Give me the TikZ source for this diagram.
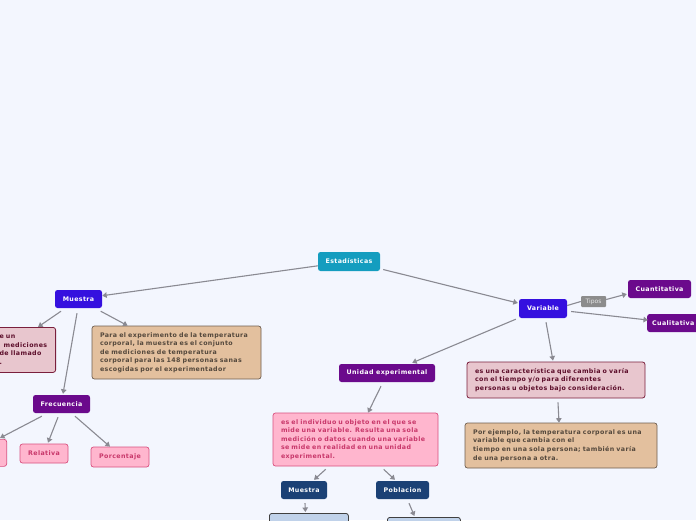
\documentclass[tikz,border=0pt]{standalone}
\usepackage{fontspec}
\setmainfont{DejaVu Sans}[BoldFeatures={LetterSpace=6}]
\usetikzlibrary{arrows.meta,calc}
\definecolor{bgc}{HTML}{F3F6FE}
\definecolor{tealc}{HTML}{149DBF}
\definecolor{bluec}{HTML}{3510DF}
\definecolor{purpc}{HTML}{6B0A8C}
\definecolor{dbluec}{HTML}{1B4175}
\definecolor{pinkf}{HTML}{FFB6CE}
\definecolor{pinkd}{HTML}{D9507F}
\definecolor{pinkt}{HTML}{C8376A}
\definecolor{rosef}{HTML}{E8C6CE}
\definecolor{rosed}{HTML}{7A1F3D}
\definecolor{roset}{HTML}{5C0D2A}
\definecolor{tanf}{HTML}{E3C09E}
\definecolor{tand}{HTML}{6E5E50}
\definecolor{tant}{HTML}{54483C}
\definecolor{lbluef}{HTML}{C0D2EA}
\definecolor{arrc}{HTML}{8A8A92}
\definecolor{tipf}{HTML}{8C8C8C}
\definecolor{tipt}{HTML}{E6E6E6}
\tikzset{
  box/.style={rounded corners=2.5pt, inner sep=0pt, font=\fontsize{6.3}{8.6}\selectfont\bfseries},
  topic/.style={box, text=white, minimum height=18pt},
  tealbox/.style={topic, fill=tealc},
  bluebox/.style={topic, fill=bluec},
  purpbox/.style={topic, fill=purpc},
  dbluebox/.style={topic, fill=dbluec},
  pinkbox/.style={box, fill=pinkf, draw=pinkd, line width=0.7pt, text=pinkt},
  rosebox/.style={box, fill=rosef, draw=rosed, line width=0.8pt, text=roset, align=left},
  tanbox/.style={box, fill=tanf, draw=tand, line width=0.7pt, text=tant, align=left},
  lbluebox/.style={box, fill=lbluef, draw=black!75, line width=0.8pt},
  tipbox/.style={rounded corners=1pt, inner sep=0pt, fill=tipf, text=tipt, font=\fontsize{6}{7}\selectfont},
  arr/.style={draw=arrc, line width=1.1pt, -{Triangle[width=5.5pt,length=4.5pt]}},
  plainline/.style={draw=arrc, line width=1.1pt}
}
\begin{document}
\begin{tikzpicture}[x=1pt,y=-1pt]
\fill[bgc] (0,0) rectangle (696,520);
\useasboundingbox (0,0) rectangle (696,520);

% nodes
\node[tealbox, minimum width=62pt, minimum height=19pt] (est) at (349,261.5) {Estadísticas};
\node[bluebox, minimum width=47pt] (mu) at (78.5,299) {Muestra};
\node[bluebox, minimum width=48pt, minimum height=19pt] (var) at (543,308.5) {Variable};
\node[tipbox, minimum width=25pt, minimum height=11pt] (tipos) at (593.5,301.5) {Tipos};
\node[purpbox, minimum width=63pt] (cuan) at (659.5,289) {Cuantitativa};
\node[purpbox, inner xsep=5pt, anchor=west] (cual) at (647,323) {Cualitativa};
\node[purpbox, minimum width=96pt] (ue) at (387,373) {Unidad experimental};

\node[rosebox, minimum width=178pt, minimum height=36pt, text width=162pt] (vdef) at (556,380)
  {es una característica que cambia o varía\\con el tiempo y/o para diferentes\\personas u objetos bajo consideración.};
\node[tanbox, minimum width=192pt, minimum height=45pt, text width=176pt] (vex) at (561,445.5)
  {Por ejemplo, la temperatura corporal es una\\variable que cambia con el\\tiempo en una sola persona; también varía\\de una persona a otra.};
\node[pinkbox, align=left, minimum width=165pt, minimum height=53pt, text width=149pt] (uedef) at (355.5,439.5)
  {es el individuo u objeto en el que se\\mide una variable. Resulta una sola\\medición o datos cuando una variable\\se mide en realidad en una unidad\\experimental.};
\node[dbluebox, minimum width=46pt] (mu2) at (304,490) {Muestra};
\node[dbluebox, minimum width=53pt] (pob) at (402.5,490) {Poblacion};
\node[lbluebox, minimum width=79pt, minimum height=20pt, anchor=north west] (b1) at (269,513) {};
\node[lbluebox, minimum width=73pt, minimum height=20pt, anchor=north west] (b2) at (387,517) {};

\node[tanbox, minimum width=169pt, minimum height=53pt, text width=153pt] (mudef) at (176.5,352.5)
  {Para el experimento de la temperatura\\corporal, la muestra es el conjunto\\de mediciones de temperatura\\corporal para las 148 personas sanas\\escogidas por el experimentador};
\node[rosebox, minimum width=64pt, minimum height=45pt, text width=48pt, anchor=north east] (ld) at (56,327)
  {e un\\\hspace*{4pt}mediciones\\de llamado\\.};

\node[purpbox, minimum width=57pt] (fre) at (61.5,404) {Frecuencia};
\node[pinkbox, minimum width=30pt, minimum height=27pt, anchor=north east] (lp) at (7,439) {};
\node[pinkbox, minimum width=48pt, minimum height=19pt] (rel) at (44,453.5) {Relativa};
\node[pinkbox, minimum width=58pt, minimum height=20pt] (por) at (120,457) {Porcentaje};

% connectors
\draw[arr] (est) -- (mu) ;
\draw[arr] ($(est.east)+(3,8)$) -- ($(var.west)+(-1,-5.5)$);
\draw[arr] ($(mu.south)+(-17.5,3)$) -- ($(ld.north east)+(-18,0)$);
\draw[arr] ($(mu.south east)+(-1.5,3)$) -- ($(mudef.north west)+(36,0)$);
\draw[arr] ($(mu.south)+(-1.5,5)$) -- ($(fre.north)+(1.5,-1)$);
\draw[plainline] ($(var.east)+(0,-3)$) -- (tipos.west);
\draw[arr] ($(tipos.east)+(0,-2)$) -- ($(cuan.west)+(-1,5)$);
\draw[arr] ($(var.east)+(4,3)$) -- ($(cual.west)+(1,-3)$);
\draw[arr] ($(var.south west)+(-3,1)$) -- ($(ue.north east)+(-23,-1)$);
\draw[arr] ($(var.south)+(3,4)$) -- ($(vdef.north)+(-3,-1)$);
\draw[arr] ($(vdef.south)+(2,4)$) -- ($(vex.north)+(-2,0)$);
\draw[arr] ($(ue.south)+(-6,4)$) -- ($(uedef.north)+(12.5,0)$);
\draw[arr] ($(uedef.south west)+(53,3)$) -- ($(mu2.north)+(10,-1)$);
\draw[arr] ($(uedef.south west)+(111,3)$) -- ($(pob.north)+(-7.5,-1)$);
\draw[arr] ($(mu2.south)+(1,4)$) -- ($(b1.north)+(-3.5,-1)$);
\draw[arr] ($(pob.south)+(6.5,4)$) -- ($(b2.north)+(-9.5,-1)$);
\draw[arr] ($(fre.south west)+(9,3)$) -- ($(lp.north east)+(-7,-1)$);
\draw[arr] ($(fre.south)+(-3.5,4)$) -- ($(rel.north)+(4,-1)$);
\draw[arr] ($(fre.south)+(13.5,3)$) -- ($(por.north)+(-10,0)$);
\end{tikzpicture}
\end{document}
